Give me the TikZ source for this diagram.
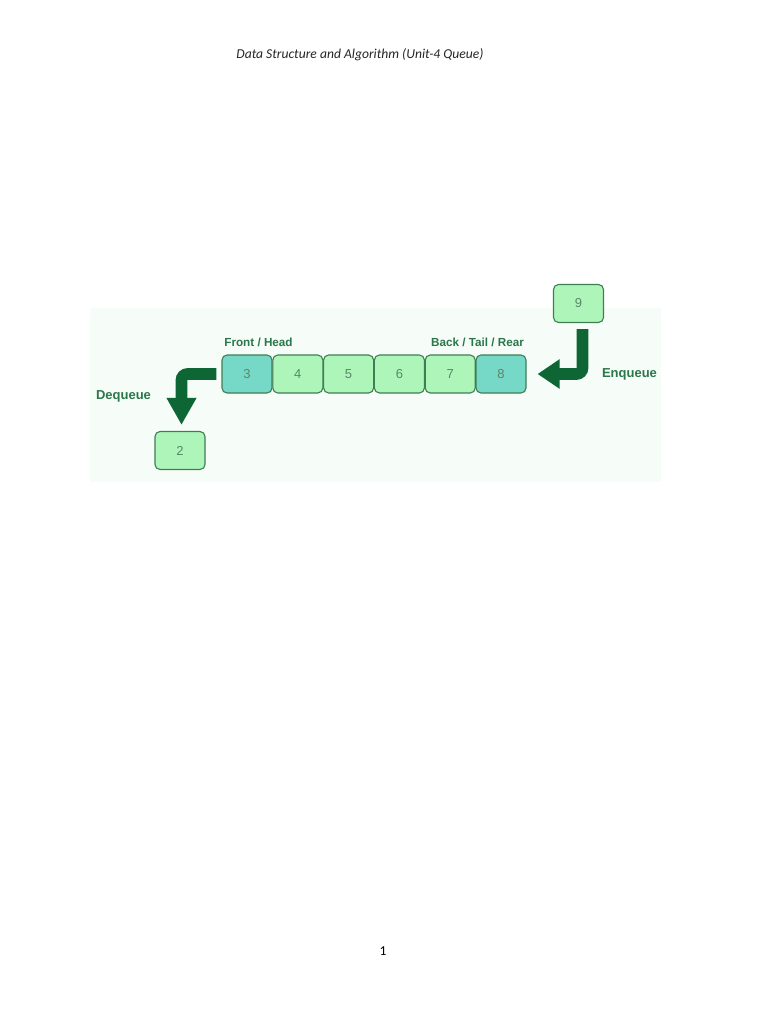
\documentclass[tikz,border=0pt]{standalone}
\usepackage{fontspec}
\setmainfont{Carlito}
\newfontfamily\lsans{Liberation Sans}
\usetikzlibrary{arrows.meta}
\definecolor{bgpale}{HTML}{F6FCF8}
\definecolor{cellfill}{HTML}{AEF5BA}
\definecolor{endfill}{HTML}{76D9C8}
\definecolor{cellborder}{HTML}{3F7E55}
\definecolor{numcol}{HTML}{5A8868}
\definecolor{labcol}{HTML}{2B774A}
\definecolor{arrcol}{HTML}{0E6634}
\tikzset{
  cell/.style={draw=cellborder, line width=1.1pt, fill=cellfill, rounded corners=5pt,
    minimum width=50pt, minimum height=38pt, inner sep=0pt,
    font=\lsans\fontsize{13}{15}\selectfont, text=numcol},
  endcell/.style={cell, fill=endfill},
  lab/.style={font=\lsans\bfseries\fontsize{11.7}{13}\selectfont, text=labcol, inner sep=0pt},
  biglab/.style={font=\lsans\bfseries\fontsize{13}{15}\selectfont, text=labcol, inner sep=0pt},
  bigarrow/.style={draw=arrcol, line width=11.6pt, rounded corners=6pt}
}
\begin{document}
\begin{tikzpicture}[x=1pt,y=-1pt]
\useasboundingbox[fill=white] (0,0) rectangle (768,1024);
\node[font=\itshape\fontsize{13.6}{16}\selectfont, text=black!85, inner sep=0pt] (hdr) at (360,55) {Data Structure and Algorithm (Unit-4 Queue)};
\fill[bgpale] (90,308) rectangle (661,482);
\node[cell] (b9) at (578.5,303.5) {9};
\node[endcell] (c3) at (247,374) {3};
\node[cell] (c4) at (297.8,374) {4};
\node[cell] (c5) at (348.6,374) {5};
\node[cell] (c6) at (399.4,374) {6};
\node[cell] (c7) at (450.2,374) {7};
\node[endcell] (c8) at (501,374) {8};
\node[cell] (b2) at (180,450.5) {2};
\node[lab] (fh) at (258.5,342) {Front / Head};
\node[lab] (btr) at (477.5,342) {Back / Tail / Rear};
\node[biglab] (deq) at (123.5,396) {Dequeue};
\node[biglab] (enq) at (629.5,374.5) {Enqueue};
\draw[bigarrow, -{Triangle[length=27pt,width=28pt]}] ([xshift=-5pt]c3.west) -| ([xshift=1.5pt,yshift=6pt]b2.north);
\draw[bigarrow, -{Triangle[length=22pt,width=28pt]}] ([xshift=4pt,yshift=-6pt]b9.south) |- ([xshift=11pt]c8.east);
\node[font=\fontsize{13.6}{16}\selectfont, inner sep=0pt] (pg) at (383,951) {1};
\end{tikzpicture}
\end{document}
